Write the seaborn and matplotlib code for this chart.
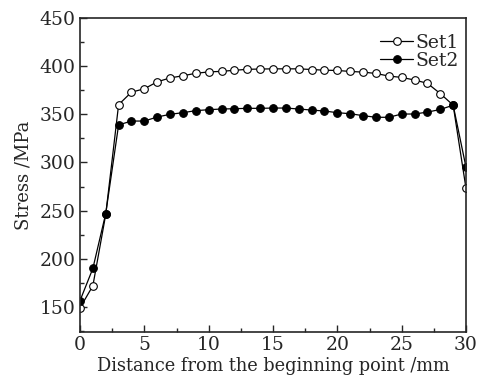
import numpy as np
import pandas as pd
import matplotlib
matplotlib.use('Agg')
import matplotlib.pyplot as plt
import seaborn as sns
from matplotlib.ticker import MultipleLocator

# Data
distance = list(range(31))
set1 = [149, 172, 246, 360, 373, 376.5, 383.7, 387.8, 390, 392.6, 394, 394.6, 395.7,
        396.7, 397, 397.2, 397.2, 397.2, 396.5, 395.8, 395.5, 394.5, 393.8, 392.4,
        389.7, 388.3, 385.6, 382.2, 371.5, 359.5, 273]
set2 = [156.5, 190, 247, 339, 343, 343, 347.2, 350, 351.7, 353.8, 354.8, 355.5, 355.8,
        356.2, 356.2, 356.5, 356.5, 355.5, 354.4, 353.4, 351.7, 350.6, 348.6, 346.9,
        346.9, 350.3, 350.3, 352.3, 355, 359.5, 295]

df = pd.DataFrame({'distance': distance, 'Set1': set1, 'Set2': set2})

sns.set_style('ticks')
plt.rcParams['font.family'] = ['DejaVu Serif']

fig = plt.figure(figsize=(4.89, 3.81), dpi=100)
ax = fig.add_axes([0.1636, 0.1286, 0.7894, 0.8242])

sns.lineplot(data=df, x='distance', y='Set1', ax=ax, color='black', linewidth=0.9,
             marker='o', markersize=5.5, markerfacecolor='white', markeredgecolor='black',
             markeredgewidth=0.8, label='Set1')
sns.lineplot(data=df, x='distance', y='Set2', ax=ax, color='black', linewidth=0.9,
             marker='o', markersize=5.5, markerfacecolor='black', markeredgecolor='black',
             markeredgewidth=0.8, label='Set2')

ax.set_xlim(0, 30)
ax.set_ylim(124, 450)
ax.xaxis.set_major_locator(MultipleLocator(5))
ax.xaxis.set_minor_locator(MultipleLocator(2.5))
ax.yaxis.set_minor_locator(MultipleLocator(25))
ax.set_yticks([150, 200, 250, 300, 350, 400, 450])
ax.tick_params(which='major', direction='in', length=5, width=1, labelsize=13.5,
               top=False, right=False, pad=3)
ax.tick_params(which='minor', direction='in', length=3, width=1, top=False, right=False)
for s in ax.spines.values():
    s.set_linewidth(1.2)
    s.set_visible(True)

ax.set_xlabel('Distance from the beginning point /mm', fontsize=12.8, labelpad=2)
ax.set_ylabel('Stress /MPa', fontsize=13, labelpad=5)

ax.legend(loc='upper right', frameon=False, fontsize=13.5, handlelength=1.8,
          handletextpad=0.1, borderaxespad=0.2, labelspacing=0.0,
          bbox_to_anchor=(1.01, 0.985))

plt.savefig('out.png', dpi=100)
